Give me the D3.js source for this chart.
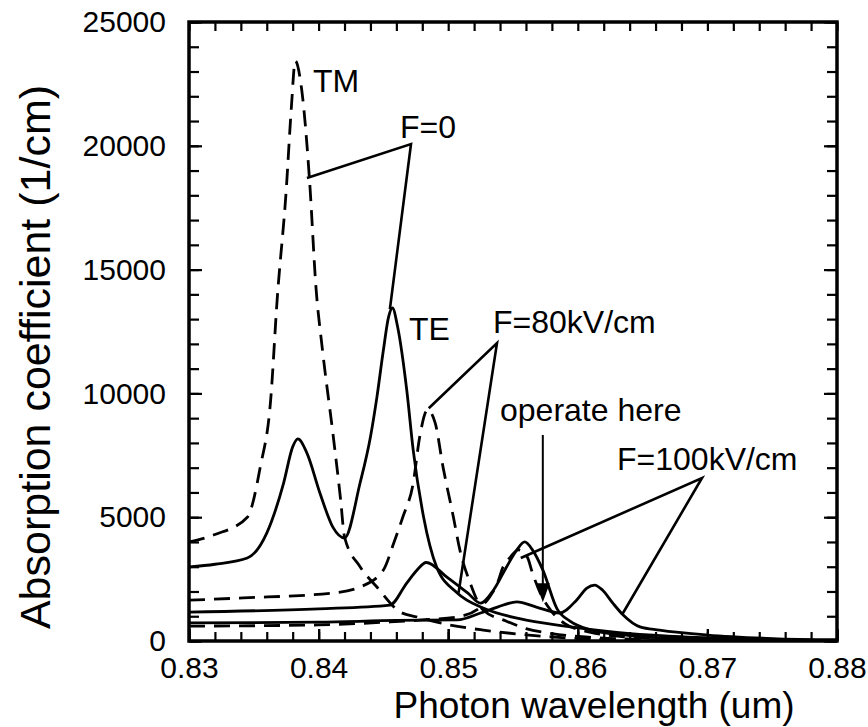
<!DOCTYPE html>
<html>
<head>
<meta charset="utf-8">
<script src="https://cdn.jsdelivr.net/npm/d3@7"></script>
<style>
  body { margin: 0; background: #fff; }
  svg text { font-family: "Liberation Sans", Arial, sans-serif; fill: #000; }
</style>
</head>
<body>
<div id="chart"></div>
<script>
// wavelength (um) / absorption (1/cm)
var tmF0_x  = [0.830,0.832,0.8345,0.8355,0.8363,0.8368,0.8375,0.8379,0.8382,0.8387,0.8393,0.8398,0.8403,0.8411,0.8417,0.8420,0.8432,0.8445,0.8463,0.8476,0.8501,0.8527,0.856,0.860,0.865,0.870,0.880];
var tmF0_y  = [4000,4300,5000,7030,9730,13770,18200,21560,23430,22250,18620,14260,11750,8400,5700,4200,3000,2180,1170,970,650,440,250,100,30,0,0];

var teF0_x  = [0.830,0.832,0.8345,0.8360,0.8373,0.8380,0.8384,0.8391,0.8401,0.8411,0.8420,0.8432,0.8440,0.8445,0.8450,0.8454,0.8457,0.8461,0.8468,0.8473,0.8481,0.8491,0.8507,0.8527,0.8555,0.859,0.863,0.867,0.872,0.880];
var teF0_y  = [2990,3100,3350,4360,6380,7840,8160,7590,5980,4600,4160,6380,8240,9850,11750,13090,13450,12680,10140,7710,5010,3000,1940,1330,900,600,350,200,100,40];

var tmF80_x = [0.830,0.8342,0.8411,0.8432,0.8450,0.8458,0.8465,0.8473,0.8478,0.8484,0.8490,0.8496,0.8504,0.8509,0.8517,0.8527,0.8545,0.856,0.858,0.861,0.866,0.875,0.880];
var tmF80_y = [1650,1740,1940,2180,2870,3960,5010,6380,8240,9330,8800,7030,5010,3680,2340,1250,800,500,300,150,50,0,0];

var teF80_x = [0.830,0.840,0.8455,0.8468,0.8476,0.8483,0.8499,0.8515,0.8525,0.8535,0.8545,0.8553,0.8559,0.8565,0.8573,0.8584,0.8594,0.861,0.864,0.868,0.875,0.880];
var teF80_y = [1170,1300,1450,2340,2870,3170,2580,1940,1530,2060,2990,3680,4000,3680,2870,1300,800,450,220,100,30,10];

var tmF100_x = [0.830,0.840,0.8455,0.848,0.8507,0.8525,0.8532,0.8538,0.8542,0.8548,0.8554,0.8561,0.8565,0.8571,0.8579,0.859,0.861,0.864,0.868,0.875,0.880];
var tmF100_y = [600,650,770,850,970,1370,1780,2340,2950,3390,3680,3390,2750,1940,1250,700,350,150,50,0,0];

var teF100_x = [0.830,0.840,0.846,0.8507,0.8525,0.8538,0.8553,0.8568,0.8586,0.8599,0.8607,0.8613,0.8619,0.8627,0.8635,0.8648,0.8663,0.870,0.875,0.880];
var teF100_y = [730,760,830,850,1130,1370,1580,1370,1130,1650,2140,2260,2060,1530,1050,570,440,240,100,40];

var xTicks = [0.83,0.84,0.85,0.86,0.87,0.88];
var yTicks = [0,5000,10000,15000,20000,25000];

var width = 868, height = 727,
    marginLeft = 189, marginRight = 31, marginTop = 22, marginBottom = 86,
    chartWidth = width - marginLeft - marginRight,
    chartHeight = height - marginTop - marginBottom;

var xScale = d3.scaleLinear().domain([0.83, 0.88]).range([0, chartWidth]);
var yScale = d3.scaleLinear().domain([0, 25000]).range([chartHeight, 0]);

var svg = d3.select('#chart').append('svg')
    .attr('width', width)
    .attr('height', height);

var chartArea = svg.append('g')
    .attr('transform', 'translate(' + marginLeft + ',' + marginTop + ')');

svg.append('defs').append('clipPath').attr('id', 'clip')
  .append('rect').attr('width', chartWidth).attr('height', chartHeight);

// curves
var series = [
  {x: tmF0_x,  y: tmF0_y,  dash: true},
  {x: teF0_x,  y: teF0_y,  dash: false},
  {x: tmF80_x, y: tmF80_y, dash: true},
  {x: teF80_x, y: teF80_y, dash: false},
  {x: tmF100_x, y: tmF100_y, dash: true},
  {x: teF100_x, y: teF100_y, dash: false}
];
var line = d3.line()
    .x(function(d){ return xScale(d[0]); })
    .y(function(d){ return yScale(d[1]); })
    .curve(d3.curveMonotoneX);

var curves = chartArea.append('g').attr('clip-path', 'url(#clip)');
series.forEach(function(s){
  curves.append('path')
    .datum(d3.zip(s.x, s.y))
    .attr('d', line)
    .style('fill', 'none')
    .style('stroke', '#000')
    .style('stroke-width', 2.8)
    .style('stroke-linejoin', 'round')
    .style('stroke-dasharray', s.dash ? '16,9' : null);
});

// axes: ticks inward on all four sides
var xMinor = d3.range(0, 26).map(function(i){ return 0.83 + i * 0.002; });
var yMinor = d3.range(0, 26).map(function(i){ return i * 1000; });

function tickStyle(g){
  g.select('.domain').remove();
  g.selectAll('line').style('stroke', '#000').style('stroke-width', 2.2);
}

chartArea.append('g').attr('transform', 'translate(0,' + chartHeight + ')')
  .call(d3.axisBottom(xScale).tickValues(xMinor).tickSize(-9).tickFormat(''))
  .call(tickStyle);
chartArea.append('g')
  .call(d3.axisTop(xScale).tickValues(xMinor).tickSize(-9).tickFormat(''))
  .call(tickStyle);
chartArea.append('g')
  .call(d3.axisLeft(yScale).tickValues(yMinor).tickSize(-10).tickFormat(''))
  .call(tickStyle);
chartArea.append('g').attr('transform', 'translate(' + chartWidth + ',0)')
  .call(d3.axisRight(yScale).tickValues(yMinor).tickSize(-10).tickFormat(''))
  .call(tickStyle);

var xAxis = chartArea.append('g').attr('transform', 'translate(0,' + chartHeight + ')')
  .call(d3.axisBottom(xScale).tickValues(xTicks).tickSize(-12).tickPadding(16)
        .tickFormat(d3.format('.2f')))
  .call(tickStyle);
xAxis.selectAll('text').style('font-size', '30px');

var yAxis = chartArea.append('g')
  .call(d3.axisLeft(yScale).tickValues(yTicks).tickSize(-13).tickPadding(23)
        .tickFormat(d3.format('d')))
  .call(tickStyle);
yAxis.selectAll('text').style('font-size', '30px');
chartArea.append('g').attr('transform', 'translate(0,' + chartHeight + ')')
  .call(d3.axisTop(xScale).tickValues(xTicks).tickSize(12).tickFormat('')).call(tickStyle);
chartArea.append('g').attr('transform', 'translate(' + chartWidth + ',0)')
  .call(d3.axisLeft(yScale).tickValues(yTicks).tickSize(13).tickFormat('')).call(tickStyle);

// frame
chartArea.append('rect')
  .attr('width', chartWidth).attr('height', chartHeight)
  .style('fill', 'none').style('stroke', '#000').style('stroke-width', 3.5);

// axis titles
svg.append('text')
  .attr('x', 594).attr('y', 718)
  .style('font-size', '37px').style('text-anchor', 'middle')
  .text('Photon wavelength (um)');
svg.append('text')
  .attr('transform', 'translate(50,357) rotate(-90)')
  .style('font-size', '43px').style('text-anchor', 'middle')
  .text('Absorption coefficient (1/cm)');

// annotations
function pt(wl, a){ return [marginLeft + xScale(wl), marginTop + yScale(a)]; }
var ann = svg.append('g');
function label(x, y, t){
  ann.append('text').attr('x', x).attr('y', y).style('font-size', '32px').text(t);
}
function pointer(pts){
  ann.append('path').attr('d', d3.line()(pts))
    .style('fill', 'none').style('stroke', '#000').style('stroke-width', 2.6);
}
label(313, 92, 'TM');
label(400, 138, 'F=0');
pointer([pt(0.8391, 18700), [411, 144], pt(0.8455, 13400)]);
label(409, 340, 'TE');
label(493, 333, 'F=80kV/cm');
pointer([pt(0.8485, 9400), [497, 343], pt(0.8508, 1950)]);
label(500, 421, 'operate here');
label(617, 470, 'F=100kV/cm');
pointer([pt(0.8556, 3350), [702, 478], pt(0.8634, 1050)]);

// arrow "operate here"
var tip = pt(0.8573, 1560);
ann.append('line')
  .attr('x1', tip[0]).attr('y1', 435).attr('x2', tip[0]).attr('y2', tip[1] - 12)
  .style('stroke', '#000').style('stroke-width', 2);
ann.append('path')
  .attr('d', d3.line()([[tip[0] - 7, tip[1] - 19], [tip[0] + 7, tip[1] - 19], tip]) + 'Z')
  .style('fill', '#000');
</script>
</body>
</html>
